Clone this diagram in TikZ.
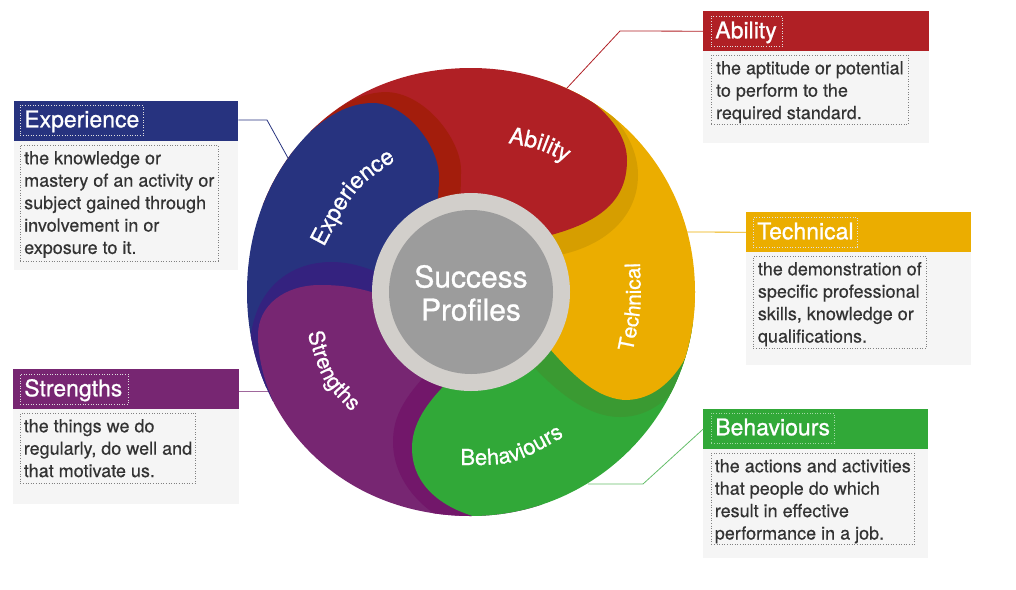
\documentclass[tikz,border=0pt]{standalone}
\usepackage{fontspec}
\setmainfont{TeX Gyre Heros}
\newfontfamily\medfont{TeX Gyre Heros}[FakeBold=0.9]
\newfontfamily\bodyfont{TeX Gyre Heros}[FakeBold=0.35]
\usetikzlibrary{decorations.text}
\definecolor{cred}{HTML}{B02025}
\definecolor{credd}{HTML}{A31D0C}
\definecolor{cyel}{HTML}{EBAD00}
\definecolor{cyeld}{HTML}{D69E00}
\definecolor{cgrn}{HTML}{31A838}
\definecolor{cgrnd}{HTML}{3A9A32}
\definecolor{cpur}{HTML}{772672}
\definecolor{cpurd}{HTML}{72176A}
\definecolor{cblu}{HTML}{27337F}
\definecolor{cblud}{HTML}{34227F}
\definecolor{cring}{HTML}{D2CFCB}
\definecolor{cgray}{HTML}{9C9C9C}
\definecolor{cpanel}{HTML}{F5F5F5}
\definecolor{ctext}{HTML}{333333}
\newcommand\pietext[1]{\medfont\fontsize{#1}{#1}\selectfont\color{white}}
\newcommand\firstline{\rule{0pt}{19pt}}
\newcommand\lastline[1]{\rule[-#1pt]{0pt}{#1pt}}
\tikzset{
  header/.style={anchor=north west,inner sep=0pt,minimum width=#1,minimum height=40pt},
  panel/.style={anchor=north west,inner sep=0pt,fill=cpanel,minimum width=#1},
  titlebox/.style={anchor=north west,draw=white!75!gray,line width=.6pt,dash pattern=on .9pt off 1.7pt,
    inner xsep=4pt,inner ysep=0pt,text height=22pt,text depth=8pt,text=white,align=left,text width=#1,
    font=\medfont\fontsize{23}{23}\selectfont},
  bodybox/.style={anchor=north west,draw=black!50,line width=.6pt,dash pattern=on .9pt off 1.7pt,
    inner xsep=3.5pt,inner ysep=0pt,align=left,text=ctext,font=\bodyfont\fontsize{18}{22.4}\selectfont},
  leader/.style={line width=.8pt},
}
\begin{document}
\begin{tikzpicture}[x=1pt,y=-1pt]
\useasboundingbox (0,0) rectangle (1016,589);
% panels
\node[panel=224pt,minimum height=130pt] (panE) at (14,140) {};
\node[panel=226pt,minimum height=92pt] (panA) at (703,51) {};
\node[panel=225pt,minimum height=113pt] (panT) at (746,252) {};
\node[panel=225pt,minimum height=109pt] (panB) at (703,449) {};
\node[panel=226pt,minimum height=95pt] (panS) at (13,409) {};
% headers
\node[header=224pt,fill=cblu] (hdrE) at (14,101) {};
\node[header=226pt,fill=cred] (hdrA) at (703,11) {};
\node[header=225pt,fill=cyel] (hdrT) at (746,212) {};
\node[header=225pt,fill=cgrn] (hdrB) at (703,409) {};
\node[header=226pt,fill=cpur] (hdrS) at (13,369) {};
% leaders
\coordinate (kA) at (620,31); \coordinate (eA) at (567,88);
\coordinate (kE) at (267,120); \coordinate (eE) at (288,158);
\coordinate (eT) at (686,232);
\coordinate (eS) at (268,391);
\coordinate (kB) at (643,484); \coordinate (eB) at (588,484);
\draw[leader,draw=cred] (hdrA.west) -- (kA) -- (eA);
\draw[leader,draw=cblu] (hdrE.east |- kE) -- (kE) -- (eE);
\draw[leader,draw=cyel] (hdrT.west) -- (eT);
\draw[leader,draw=cpur!70] (hdrS.east |- eS) -- (eS);
\draw[leader,draw=cgrn!75] (hdrB.west) -- (kB) -- (eB);
% wheel
\coordinate (C) at (471,292);
\begin{scope}
\clip (247,292) .. controls (247,162.6) and (341.6,68) .. (471,68)
  .. controls (597.5,68) and (695,165.5) .. (695,292)
  .. controls (695,415.7) and (594.7,516) .. (471,516)
  .. controls (341.6,516) and (247,421.4) .. (247,292) -- cycle;
\fill[cyel] (C) -- (560,40) -- (760,60) -- (760,400) -- cycle;
\fill[cyeld] (575,85) .. controls (610,105) and (638,140) .. (638,175) .. controls (638,218) and (602,252) .. (540,258) -- (C) -- cycle;
\fill[cred] (570,85) .. controls (600,105) and (627,130) .. (627,160) .. controls (627,205) and (595,228) .. (520,242) -- (C) -- (290,110) -- (470,40) -- cycle;
\fill[credd] (312,130) .. controls (335,110) and (355,93) .. (385,92) .. controls (425,92) and (461,140) .. (461,170) .. controls (461,185) and (461,200) .. (455,235) -- (C) -- (250,200) -- cycle;
\fill[cblu] (295,147) .. controls (320,120) and (345,103) .. (373,103) .. controls (405,103) and (439,145) .. (439,177) .. controls (439,190) and (438,200) .. (432,235) -- (C) -- (240,400) -- (220,250) -- cycle;
\fill[cblud] (250,350) .. controls (250,300) and (280,263) .. (330,262) .. controls (350,262) and (365,266) .. (400,282) -- (C) -- (240,420) -- cycle;
\fill[cpur] (278,412) .. controls (265,385) and (258,360) .. (258,335) .. controls (258,305) and (285,285) .. (320,285) .. controls (345,285) and (365,288) .. (400,302) -- (C) -- (480,560) -- (260,560) -- cycle;
\fill[cpurd] (448,522) .. controls (415,505) and (393,475) .. (393,442) .. controls (393,415) and (405,395) .. (440,360) -- (C) -- (560,560) -- cycle;
\fill[cgrn] (500,522) .. controls (450,515) and (412,490) .. (412,448) .. controls (412,425) and (425,403) .. (455,375) -- (C) -- (760,345) -- (720,560) -- cycle;
\fill[cgrnd] (702,325) .. controls (695,365) and (670,417) .. (620,417) .. controls (590,417) and (555,395) .. (515,345) -- (C) -- cycle;
\fill[cyel] (702,310) .. controls (695,350) and (670,400) .. (625,400) .. controls (592,398) and (565,368) .. (530,325) -- (C) -- (730,290) -- cycle;
\end{scope}
% hub
\node[circle,fill=cring,minimum size=198pt,inner sep=0pt] (ring) at (C) {};
\node[circle,fill=cgray,minimum size=164pt,inner sep=0pt] (hub) at (C) {};
\node[align=center,text=white,inner sep=0pt,font=\medfont\fontsize{30}{33}\selectfont] (hubtext) at (471,293) {Success\\Profiles};
% wheel labels
\path[decorate,decoration={text along path,text align=center,text={|\pietext{23}|Experience}}]
  (317,260) -- (326,243) .. controls (355,188) .. (396,160) -- (408,152);
\path[decorate,decoration={text along path,text align=center,text={|\pietext{23}|Ability}}]
  (498,141) -- (508,143) .. controls (540.5,149) .. (567,163) -- (575,167);
\path[decorate,decoration={text along path,text align=center,text={|\pietext{21}|Technical}}]
  (630.5,362.5) -- (633,350) .. controls (641.5,308.5) .. (640,265) -- (639.5,252);
\path[decorate,decoration={text along path,text align=center,text={|\pietext{22}|Behaviours}}]
  (446.5,465) -- (462,465) .. controls (513.5,465) .. (563,437) -- (576,429);
\path[decorate,decoration={text along path,text align=center,text={|\pietext{21.5}|Strengths}}]
  (305,325) -- (309,338) .. controls (322.5,382) .. (350,410) -- (358,418);
% titles
\node[titlebox=115pt] (tE) at (20,105) {Experience};
\node[titlebox=63pt] (tA) at (711,16) {Ability};
\node[titlebox=96pt] (tT) at (753,217) {Technical};
\node[titlebox=115pt,draw=white!55!cgrn] (tB) at (711,413) {Behaviours};
\node[titlebox=100pt] (tS) at (20,374) {Strengths};
% bodies
\node[bodybox,minimum width=198pt] (bE) at (20,145) {\firstline the knowledge or\\mastery of an activity or\\subject gained through\\involvement in or\\exposure to it.\lastline{7}};
\node[bodybox,minimum width=197pt] (bA) at (711,55) {\firstline the aptitude or potential\\to perform to the\\required standard.\lastline{5.2}};
\node[bodybox,minimum width=173pt] (bT) at (753,256) {\firstline the demonstration of\\specific professional\\skills, knowledge or\\qualifications.\lastline{5.8}};
\node[bodybox,minimum width=203pt] (bB) at (711,453) {\firstline the actions and activities\\that people do which\\result in effective\\performance in a job.\lastline{5}};
\node[bodybox,minimum width=175pt] (bS) at (20,413) {\firstline the things we do\\regularly, do well and\\that motivate us.\lastline{6.2}};
\end{tikzpicture}
\end{document}
